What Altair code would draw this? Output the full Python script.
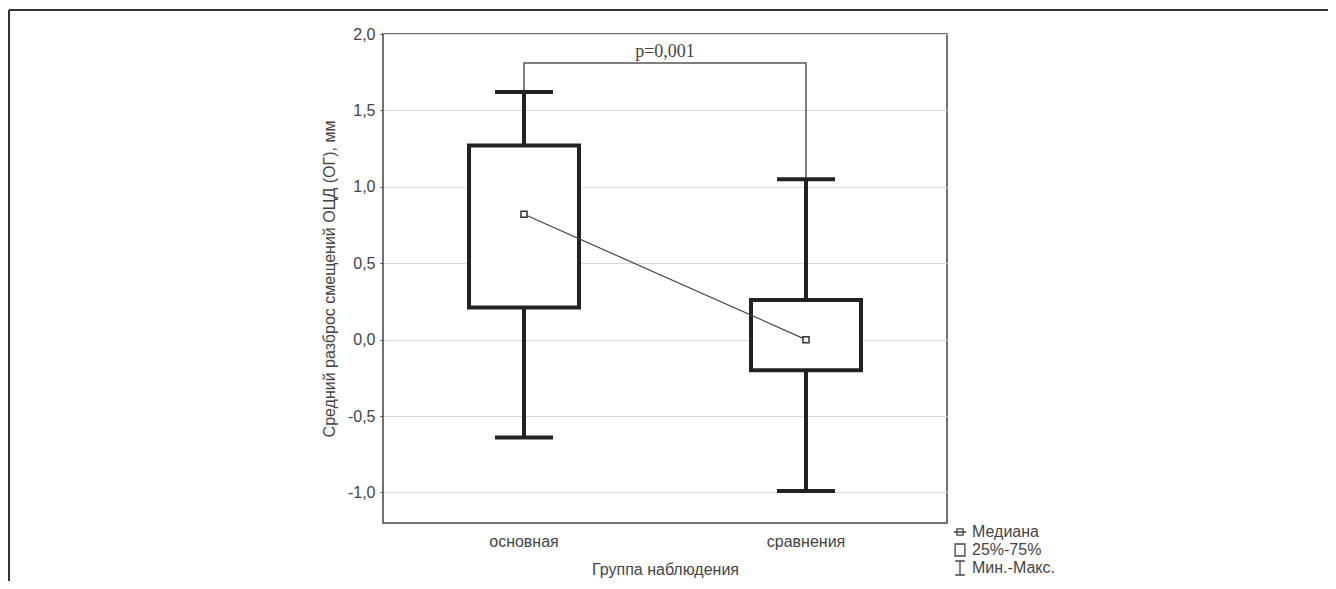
import altair as alt
import pandas as pd

# ---- data ----
groups = ["основная", "сравнения"]
mins = [-0.64, -0.99]
q1 = [0.21, -0.20]
medians = [0.82, 0.0]
q3 = [1.27, 0.26]
maxs = [1.62, 1.05]

bracket_level = 1.81
p_label = "p=0,001"
p_label_level = 1.885

y_ticks = [-1.0, -0.5, 0.0, 0.5, 1.0, 1.5, 2.0]
y_domain = [-1.2, 2.0]

legend_labels = ["Медиана", "25%-75%", "Мин.-Макс."]

y_title = "Средний разброс смещений ОЦД (ОГ), мм"
x_title = "Группа наблюдения"

W, H = 564, 489
PAD_L, PAD_T = 375, 26
TOTAL_W, TOTAL_H = 1320, 573

df = pd.DataFrame({"group": groups, "min": mins, "q1": q1, "med": medians,
                   "q3": q3, "max": maxs})

bracket = pd.DataFrame({
    "group": [groups[0], groups[0], groups[1], groups[1]],
    "y": [maxs[0], bracket_level, bracket_level, maxs[1]],
    "order": [0, 1, 2, 3],
})
ptext = pd.DataFrame({"label": [p_label], "y": [p_label_level]})

FONT = "Liberation Sans"
INK = "#222222"
TXT = "#444444"

xscale = alt.Scale(type="band", domain=groups, paddingInner=0, paddingOuter=0)
yscale = alt.Scale(domain=y_domain, nice=False, zero=False)

xaxis = alt.Axis(title=x_title, labelAngle=0, ticks=False, domain=False,
                 labelPadding=10, grid=False, titleX=W / 2, titleY=46,
                 titleBaseline="middle", titleAlign="center")
yaxis = alt.Axis(title=y_title, values=y_ticks,
                 labelExpr="replace(replace(format(datum.value, '.1f'), '.', ','), '\u2212', '-')",
                 grid=True, gridColor="#d9d9d9", gridWidth=1, domain=False,
                 tickSize=3, tickColor=TXT, labelPadding=5,
                 titleX=-54, titleY=H / 2, titleAngle=270,
                 titleBaseline="middle", titleAlign="center")


def X(field="group"):
    return alt.X(f"{field}:N", scale=xscale, axis=xaxis, sort=groups)


def Y(field):
    return alt.Y(f"{field}:Q", scale=yscale, axis=yaxis)


base = alt.Chart(df)

bracket_line = alt.Chart(bracket).mark_line(color="#555555", strokeWidth=1.5, opacity=1).encode(
    x=X(), y=Y("y"), order="order:Q")

ptext_mark = alt.Chart(ptext).mark_text(font="Liberation Serif", fontSize=18, color=TXT,
                                        baseline="middle", align="center").encode(
    x=alt.value(W / 2), y=Y("y"), text="label:N")

whisk_up = base.mark_rule(color=INK, strokeWidth=4, opacity=1).encode(
    x=X(), y=Y("q3"), y2="max:Q")
whisk_dn = base.mark_rule(color=INK, strokeWidth=4, opacity=1).encode(
    x=X(), y=Y("min"), y2="q1:Q")

boxes = base.mark_bar(fill="white", stroke=INK, strokeWidth=4, opacity=1,
                      width=alt.RelativeBandSize(0.39)).encode(
    x=X(), y=Y("q1"), y2="q3:Q")

cap_top = base.mark_tick(color=INK, thickness=4, size=58, opacity=1).encode(
    x=X(), y=Y("max"))
cap_bot = base.mark_tick(color=INK, thickness=4, size=58, opacity=1).encode(
    x=X(), y=Y("min"))

med_line = base.mark_line(color="#444444", strokeWidth=1.2, opacity=1).encode(
    x=X(), y=Y("med"))
med_pts = base.mark_point(shape="square", size=36, filled=True, fill="white",
                          stroke="#333333", strokeWidth=1.5, opacity=1).encode(
    x=X(), y=Y("med"))

# ---- legend (drawn) ----
LX_SYM, LX_TXT = 577, 589
LY = [498, 516, 534]
sym_paths = [
    "M-0.45,0H0.45M-0.22,-0.22H0.22V0.22H-0.22Z",
    "M-0.35,-0.43H0.35V0.43H-0.35Z",
    "M0,-0.5V0.5M-0.35,-0.5H0.35M-0.35,0.5H0.35",
]
legend_layers = []
for lab, ly, path in zip(legend_labels, LY, sym_paths):
    legend_layers.append(
        alt.Chart(df.head(1)).mark_point(shape=path, size=784, filled=False,
                                         stroke=TXT, strokeWidth=1.3, opacity=1).encode(
            x=alt.value(LX_SYM), y=alt.value(ly)))
    legend_layers.append(
        alt.Chart(df.head(1)).mark_text(text=lab, font=FONT, fontSize=16, color=TXT,
                                        align="left", baseline="middle").encode(
            x=alt.value(LX_TXT), y=alt.value(ly)))

# ---- outer frame (top and left lines of the figure) ----
frame_top = alt.Chart(df.head(1)).mark_rule(color="#333333", strokeWidth=2).encode(
    x=alt.value(-PAD_L + 1), x2=alt.value(TOTAL_W - PAD_L), y=alt.value(-PAD_T + 2))
frame_left = alt.Chart(df.head(1)).mark_rule(color="#333333", strokeWidth=2).encode(
    x=alt.value(-PAD_L + 1), y=alt.value(-PAD_T + 2), y2=alt.value(TOTAL_H - PAD_T))

chart = alt.layer(
    bracket_line, whisk_up, whisk_dn, boxes, cap_top, cap_bot, med_line, med_pts,
    ptext_mark, *legend_layers, frame_top, frame_left,
).properties(
    width=W, height=H,
    background="white",
    autosize=alt.AutoSizeParams(type="none"),
    padding={"left": PAD_L, "top": PAD_T, "right": TOTAL_W - PAD_L - W,
             "bottom": TOTAL_H - PAD_T - H},
).configure_view(
    stroke="#444444", strokeWidth=1.5
).configure_axis(
    labelFont=FONT, labelFontSize=16, labelColor=TXT,
    titleFont=FONT, titleFontSize=16, titleColor=TXT, titleFontWeight="normal",
)

chart.save("out.html", embed_options={"renderer": "svg", "actions": False})
